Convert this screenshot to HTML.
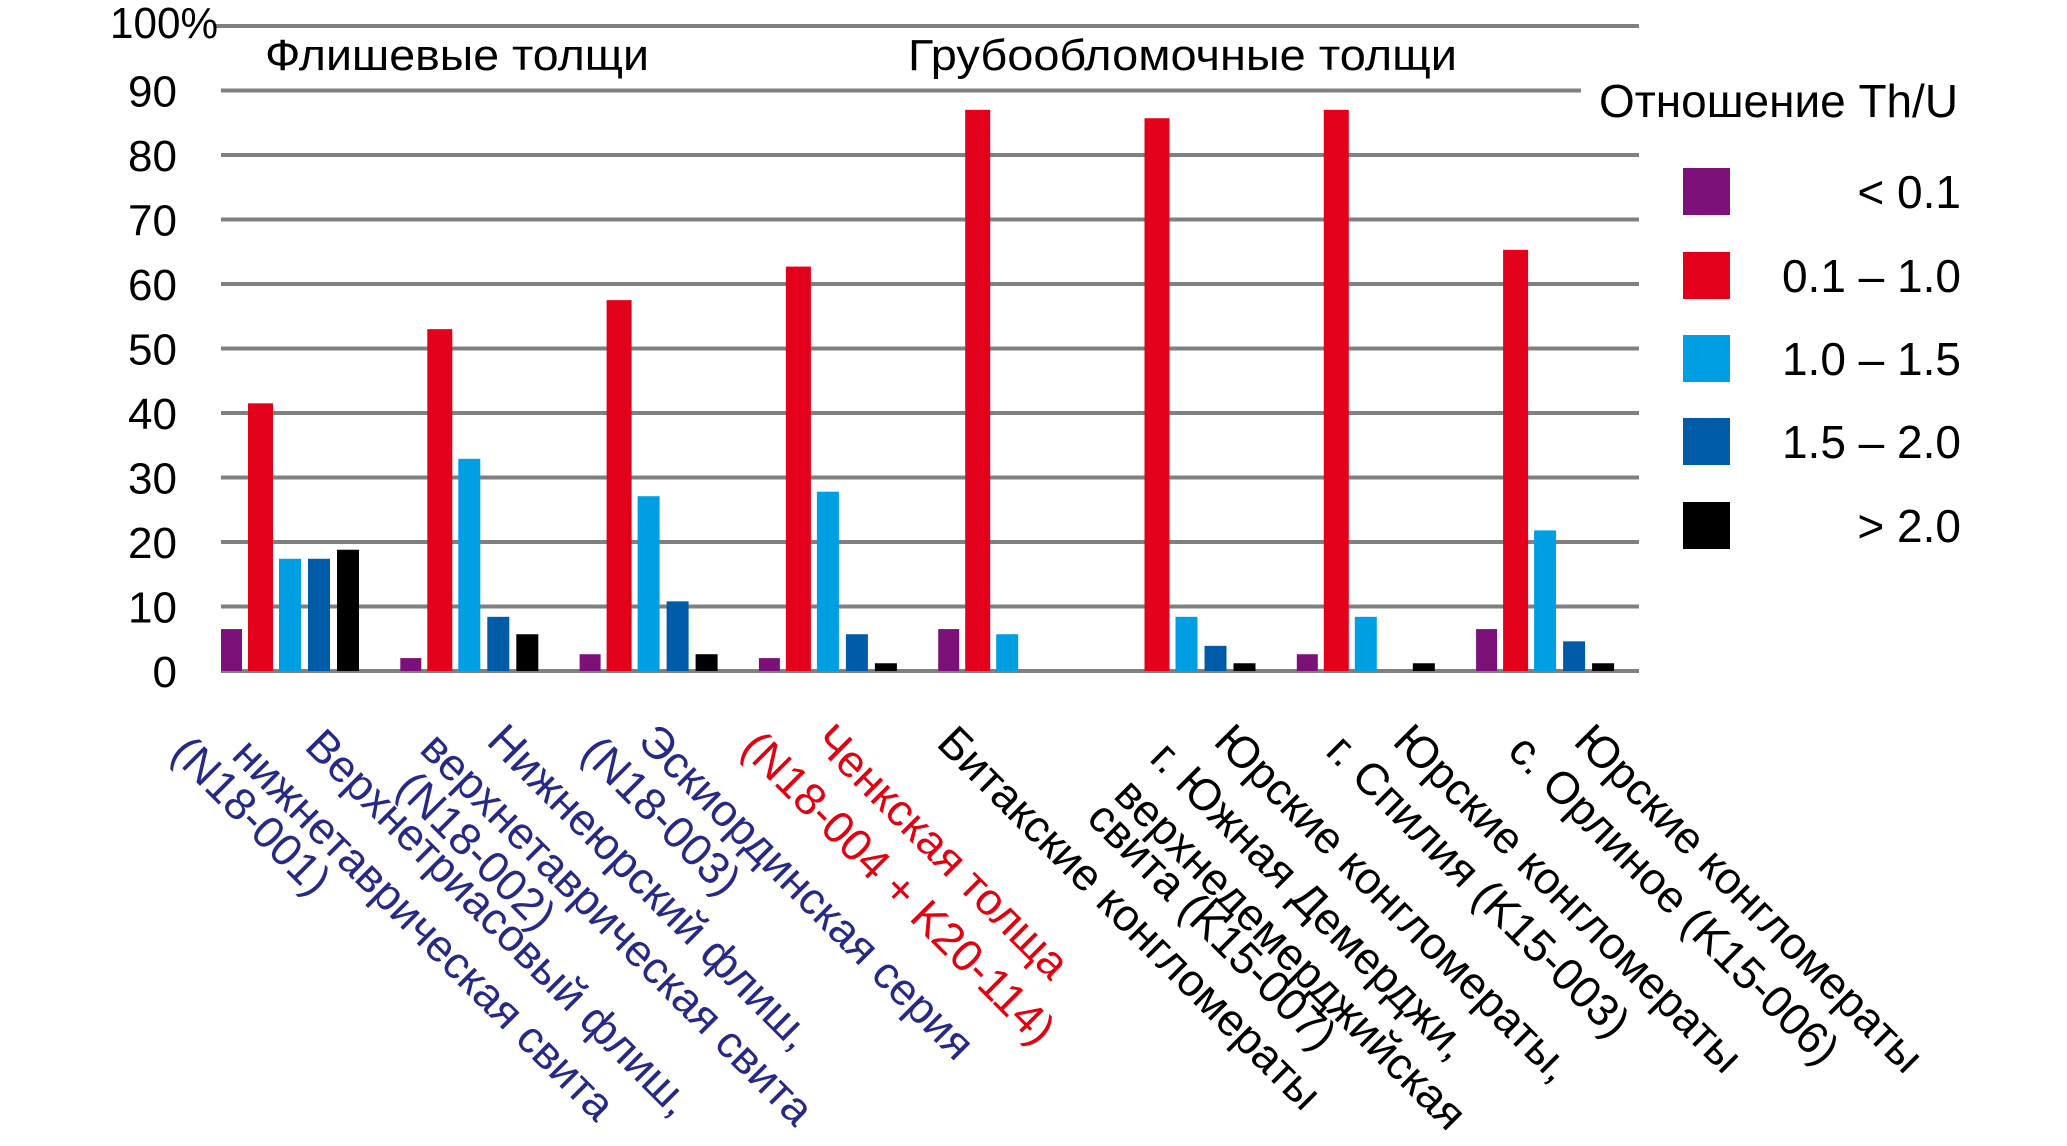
<!DOCTYPE html>
<html><head><meta charset="utf-8"><style>
html,body{margin:0;padding:0;background:#fff;}
svg{display:block;font-family:"Liberation Sans","Noto Sans CJK SC",sans-serif;}
</style></head><body>
<svg id="chart" width="2067" height="1146" viewBox="0 0 2067 1146" xmlns="http://www.w3.org/2000/svg">
<g id="grid"></g>
<g id="yticks"></g>
<g id="bars"></g>
<g id="xlabels"></g>
<text x="265" y="70" font-size="44" textLength="384" lengthAdjust="spacingAndGlyphs" fill="#000">Флишевые толщи</text>
<text x="908" y="70" font-size="44" textLength="549" lengthAdjust="spacingAndGlyphs" fill="#000">Грубообломочные толщи</text>
<g id="legend">
<text x="1599" y="117" font-size="46" textLength="359" lengthAdjust="spacingAndGlyphs" fill="#000">Отношение Th/U</text>
</g>
</svg>
<script>
const categories = ["G1","G2","G3","G4","G5","G6","G7","G8"];
const seriesNames = ["< 0.1","0.1 – 1.0","1.0 – 1.5","1.5 – 2.0","> 2.0"];
const valsLt01 = [6.5, 2.0, 2.6, 2.0, 6.5, 0, 2.6, 6.5];
const vals01to10 = [41.5, 53.0, 57.5, 62.7, 87.0, 85.7, 87.0, 65.3];
const vals10to15 = [17.4, 32.9, 27.1, 27.8, 5.7, 8.4, 8.4, 21.8];
const vals15to20 = [17.4, 8.4, 10.8, 5.7, 0, 3.9, 0, 4.6];
const valsGt20 = [18.8, 5.7, 2.6, 1.2, 0, 1.2, 1.2, 1.2];
const yTicks = [0,10,20,30,40,50,60,70,80,90,100];
const yTickLabels = ["0","10","20","30","40","50","60","70","80","90","100%"];

const series = [valsLt01, vals01to10, vals10to15, vals15to20, valsGt20];
const colors = ["#7b1179","#e3001b","#009fe3","#005ca9","#000000"];
const NS = "http://www.w3.org/2000/svg";
const y0 = 671, yPer = 6.45;
function yScale(v){ return y0 - v*yPer; }
function xGroup(i){ return 221 + i*179.3; }
const barOff = [0,27,58,87,116], barW = [21,25,22,22,22];
function mk(tag, attrs, parent){ const e=document.createElementNS(NS,tag); for(const k in attrs) e.setAttribute(k,attrs[k]); parent.appendChild(e); return e; }

const grid = document.getElementById('grid');
const yt = document.getElementById('yticks');
yTicks.forEach((t,i)=>{
  const y = yScale(t);
  const x1 = (t===100)?216:221;
  const x2 = (t===90)?1581:1639;
  const ln = mk('line',{x1:x1,x2:x2,y1:y,y2:y,stroke:'#808080','stroke-width':4},grid);
  
  
  const tx = mk('text',{x: t===100?218:177, y: y+16, 'font-size':44,'text-anchor':'end',fill:'#000'},yt);
  if(t===100){ tx.setAttribute('textLength','108'); tx.setAttribute('lengthAdjust','spacingAndGlyphs'); tx.setAttribute('y', y+12); }
  tx.textContent = yTickLabels[i];
  
  
});

const bars = document.getElementById('bars');
categories.forEach((c,i)=>{
  series.forEach((s,j)=>{
    const v = s[i];
    if(v<=0) return;
    const r = mk('rect',{x:xGroup(i)+barOff[j], y:yScale(v), width:barW[j], height:y0-yScale(v), fill:colors[j]},bars);
    
    
  });
});

const legend = document.getElementById('legend');
const legTop = [168,252,335,418,502];
seriesNames.forEach((n,j)=>{
  const r = mk('rect',{x:1683,y:legTop[j],width:47,height:47,fill:colors[j]},legend);
  
  
  const t = mk('text',{x:1961,y:legTop[j]+40,'font-size':46,'text-anchor':'end',fill:'#000'},legend);
  t.textContent = n;
  
  
});

const navy = "#262a86", red = "#e3000f";
const labelLines = [
 [["Верхнетриасовый флиш,",326,725],["нижнетаврическая свита",253,734],["(N18-001)",192,732],navy],
 [["Нижнеюрский флиш,",508,720],["верхнетаврическая свита",441,728],["(N18-002)",417,767],navy],
 [["Эскиординская серия",659,720],["(N18-003)",602,732],navy],
 [["Ченкская толща",835,720],["(N18-004 + K20-114)",762,727],red],
 [["Битакские конгломераты",958,722],"#000"],
 [["Юрские конгломераты,",1235,720],["г. Южная Демерджи,",1171,737],["верхнедемерджийская",1135,774],["свита (K15-007)",1108,797],"#000"],
 [["Юрские конгломераты",1414,720],["г. Спилия (K15-003)",1347,730],"#000"],
 [["Юрские конгломераты",1595,720],["с. Орлиное (K15-006)",1529,730],"#000"]
];
const xl = document.getElementById('xlabels');
const ang = 45, fs = 45;
const rad = ang*Math.PI/180;
labelLines.forEach((lab,i)=>{
  const col = lab[lab.length-1];
  const g = mk('g',{fill:col},xl);
  
  
  for(let k=0;k<lab.length-1;k++){
    const [txt,tx,ty] = lab[k];
    const bx = tx - Math.sin(rad)*0.72*fs, by = ty + Math.cos(rad)*0.72*fs;
    const t = mk('text',{x:bx,y:by,'font-size':fs,transform:`rotate(${ang} ${bx} ${by})`},g);
    t.textContent = txt;
    
    
  }
});
</script>
</body></html>
